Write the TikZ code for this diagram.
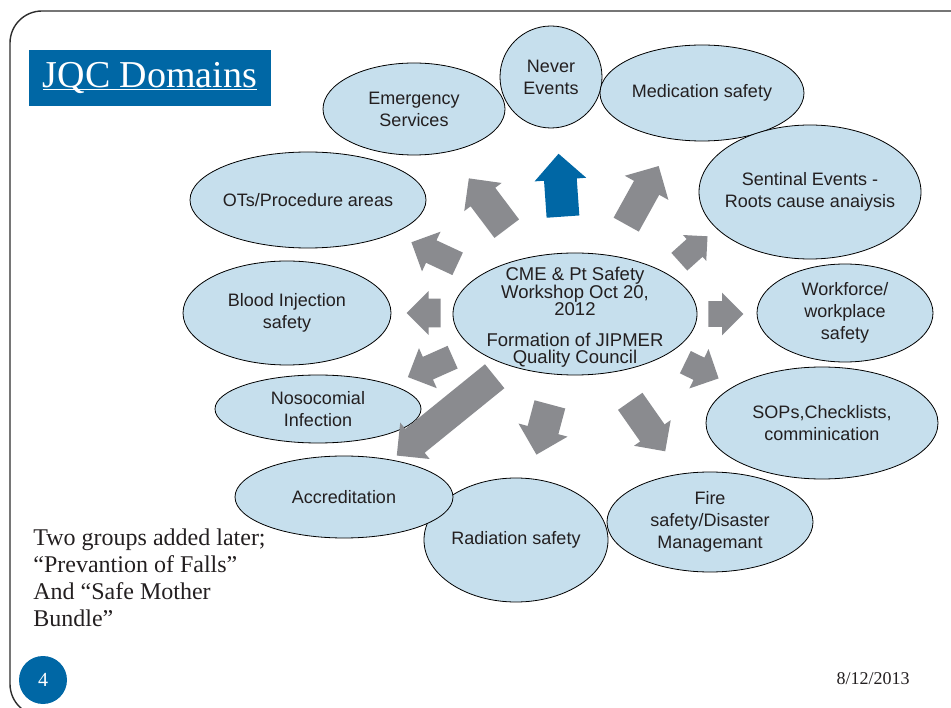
\documentclass[tikz,border=0pt]{standalone}
\usepackage{fontspec}
\setmainfont{Liberation Serif}
\newfontfamily\arialfont{Liberation Sans}
\usetikzlibrary{shapes,positioning}
\definecolor{domfill}{RGB}{198,223,237}
\definecolor{arrgray}{RGB}{138,139,143}
\definecolor{jqcblue}{RGB}{0,103,165}
\definecolor{inkdark}{RGB}{35,31,32}
\definecolor{framegray}{RGB}{45,45,45}
\tikzset{every picture/.style={line width=0.8pt}}
\tikzstyle{dom}=[ellipse,draw=black,fill=domfill,inner sep=-30pt,align=center,text=inkdark,font=\arialfont\fontsize{18}{22}\selectfont]
\tikzstyle{blk}=[single arrow,fill=arrgray,draw=none,inner xsep=0pt,minimum width=0pt,anchor=tail]
\newcommand{\ulword}[1]{\setbox0\hbox{#1}\rlap{\rule[-2.5pt]{\wd0}{1.2pt}}\box0}

\begin{document}
\begin{tikzpicture}[x=1pt,y=-1pt]
\useasboundingbox (0,0) rectangle (951,708);
\draw[framegray,line width=1.4pt,rounded corners=32pt] (10,11) rectangle (990,716);

\node[fill=jqcblue,minimum width=242pt,minimum height=56pt,inner sep=0pt,text=white,font=\fontsize{38}{40}\selectfont] (T) at (150,78) {\ulword{JQC Domains}};

% domains
\node[dom,minimum width=102pt,minimum height=102pt] (NE) at (551,77) {Never\\Events};
\node[dom,minimum width=204pt,minimum height=96pt] (MS) at (702,93) {Medication safety};
\node[dom,minimum width=222pt,minimum height=134pt] (SE) at (810,192) {Sentinal Events -\\Roots cause anaiysis};
\node[dom,minimum width=182pt,minimum height=92pt] (ES) at (414,109) {Emergency\\Services};
\node[dom,minimum width=236pt,minimum height=96pt] (OT) at (308,200) {OTs/Procedure areas};
\node[dom,minimum width=208pt,minimum height=104pt] (BI) at (287,313) {Blood Injection\\safety};
\node[dom,minimum width=206pt,minimum height=68pt] (NI) at (318,409) {Nosocomial\\Infection};
\node[dom,minimum width=184pt,minimum height=124pt] (RS) at (516,540) {Radiation safety};
\node[dom,minimum width=218pt,minimum height=82pt] (AC) at (344,497) {Accreditation};
\node[dom,minimum width=206pt,minimum height=100pt] (FS) at (710,522) {Fire\\safety/Disaster\\Managemant};
\node[dom,minimum width=232pt,minimum height=112pt] (SO) at (822,423) {SOPs,Checklists,\\comminication};
\node[dom,minimum width=176pt,minimum height=98pt] (WF) at (845,313) {Workforce/\\workplace\\safety};
\node[dom,minimum width=244pt,minimum height=122pt,font=\arialfont\fontsize{18.5}{17.5}\selectfont] (C) at (575,314) {\rule{0pt}{20pt}CME \& Pt Safety\\Workshop Oct 20,\\2012\\[13pt]Formation of JIPMER\\Quality Council};

% block arrows
\node[blk,fill=jqcblue,rotate=94,minimum height=63pt,inner ysep=16pt,single arrow head extend=9.5pt] (aNE) at (563,217) {};
\node[blk,rotate=127,minimum height=63pt,inner ysep=15pt,single arrow head extend=8pt] (aES) at (507,229) {};
\node[blk,rotate=155,minimum height=51pt,inner ysep=12pt,single arrow head extend=9.5pt] (aOT) at (458,264) {};
\node[blk,rotate=180,minimum height=34pt,inner ysep=14pt,single arrow head extend=7.5pt] (aBI) at (441,313) {};
\node[blk,rotate=204,minimum height=49pt,inner ysep=12pt,single arrow head extend=9.5pt] (aNI) at (453,357) {};
\node[blk,rotate=219,minimum height=126pt,inner ysep=15pt,single arrow head extend=8pt] (aAC) at (495,376) {};
\node[blk,rotate=255,minimum height=52pt,inner ysep=15.5pt,single arrow head extend=9.5pt] (aRS) at (550,404) {};
\node[blk,rotate=-55,minimum height=61pt,inner ysep=14.5pt,single arrow head extend=7.5pt] (aFS) at (630,401) {};
\node[blk,rotate=-26,minimum height=37pt,inner ysep=12pt,single arrow head extend=9.5pt] (aSO) at (685,362) {};
\node[blk,rotate=0,minimum height=35pt,inner ysep=12.5pt,single arrow head extend=8.5pt] (aWF) at (708,314) {};
\node[blk,rotate=42,minimum height=38pt,inner ysep=11.5pt,single arrow head extend=5.5pt] (aSE) at (679,262) {};
\node[blk,rotate=61,minimum height=67pt,inner ysep=14pt,single arrow head extend=10.5pt] (aMS) at (626,225) {};

\node[anchor=north west,inner sep=0pt,align=left,text=inkdark,font=\fontsize{24}{27}\selectfont] (note) at (33,528.6) {Two groups added later;\\``Prevantion of Falls''\\And ``Safe Mother\\Bundle''};
\node[circle,fill=jqcblue,minimum size=48pt,inner sep=0pt,text=white,font=\fontsize{20}{20}\selectfont] (pg) at (43,680) {4};
\node[anchor=base east,inner sep=0pt,text=inkdark,font=\fontsize{18}{20}\selectfont] (dt) at (910,684) {8/12/2013};
\end{tikzpicture}
\end{document}
